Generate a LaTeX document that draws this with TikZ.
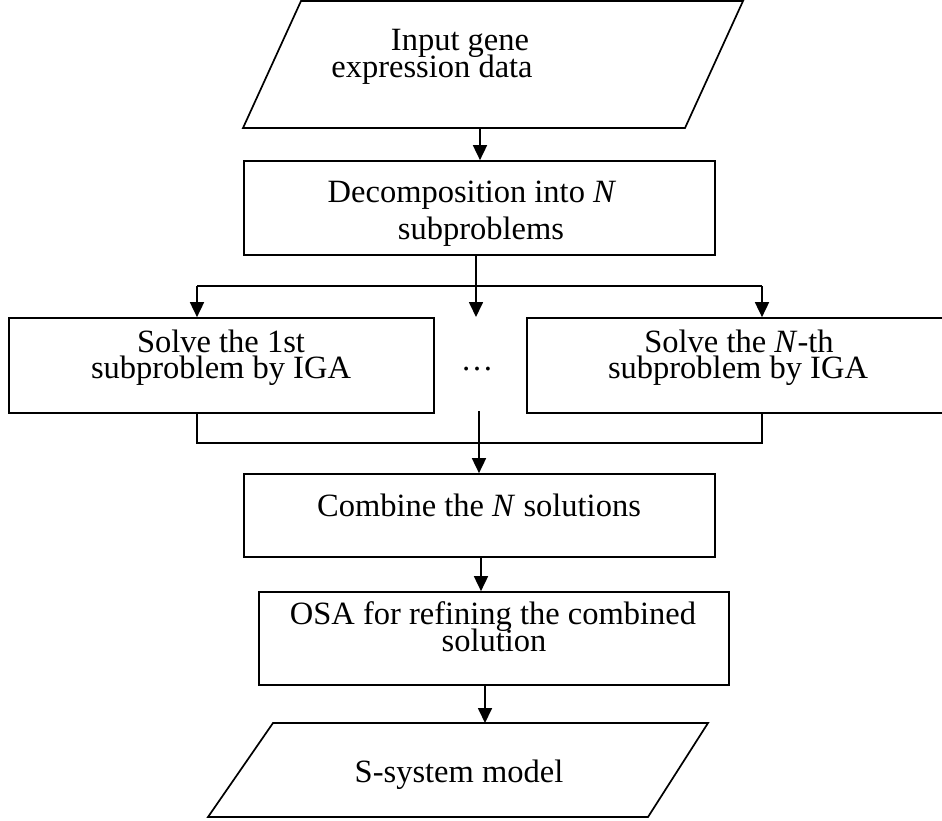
\documentclass[tikz,border=0pt]{standalone}
\usepackage{fontspec}
\setmainfont{Liberation Serif}
\usetikzlibrary{arrows.meta}
\begin{document}
\begin{tikzpicture}[x=1pt,y=-1pt,line width=1.7pt,
  box/.style={draw,rectangle,inner sep=0pt},
  txt/.style={anchor=base,inner sep=0pt,text height=20pt,text depth=4pt,font=\fontsize{32.5}{36}\selectfont},
  arr/.style={-{Triangle[length=15pt,width=14pt]}}]
\useasboundingbox (0,0) rectangle (942,820);
\clip (0,0) rectangle (942,820);

% input parallelogram
\draw (301,1) -- (743,1) -- (685,128) -- (243,128) -- cycle;
\coordinate (p1b) at (480,128);
\node[txt] (t1a) at (460,50) {Input gene};
\node[txt] (t1b) at (432,77) {expression data};

% decomposition
\node[box,minimum width=471pt,minimum height=94pt] (dec) at (479.5,208) {};
\node[txt] (t2a) at (472,202) {Decomposition into \textit{N}};
\node[txt] (t2b) at (481,239) {subproblems};
\draw[arr] (p1b) -- (p1b |- dec.north);

% subproblem boxes
\node[box,minimum width=425pt,minimum height=95pt] (s1) at (221.5,365.5) {};
\node[box,minimum width=423pt,minimum height=95pt] (sN) at (738.5,365.5) {};
\node[txt] (t3a) at (221,352) {Solve the 1st};
\node[txt] (t3b) at (221,378) {subproblem by IGA};
\node[txt] (t4a) at (739,352) {Solve the \textit{N}-th};
\node[txt] (t4b) at (738,378) {subproblem by IGA};
\node[txt] (dots) at (477,370) {…};

% branching
\coordinate (br) at (476,286);
\coordinate (bl) at (197,286);
\coordinate (brr) at (762,286);
\coordinate (dotst) at (476,317);
\draw (bl) -- (brr);
\draw[arr] (dec.south -| br) -- (dotst);
\draw[arr] (bl) -- (bl |- s1.north);
\draw[arr] (brr) -- (brr |- sN.north);

% combine
\node[box,minimum width=471pt,minimum height=83pt] (comb) at (479.5,515.5) {};
\node[txt] (t5) at (479,516) {Combine the \textit{N} solutions};
\coordinate (jn) at (479,443);
\coordinate (dotsb) at (479,411);
\draw (bl |- s1.south) -- (bl |- jn) -- (brr |- jn) -- (brr |- sN.south);
\draw[arr] (dotsb) -- (dotsb |- comb.north);

% OSA
\node[box,minimum width=470pt,minimum height=93pt] (osa) at (494,638.5) {};
\node[txt] (t6a) at (493,624) {OSA for refining the combined};
\node[txt] (t6b) at (494,651) {solution};
\coordinate (a2) at (481,557);
\draw[arr] (a2) -- (a2 |- osa.north);

% output parallelogram
\draw (273,723) -- (708,723) -- (648,817) -- (208,817) -- cycle;
\coordinate (p2t) at (485,723);
\node[txt] (t7) at (459,782) {S-system model};
\draw[arr] (osa.south -| p2t) -- (p2t);
\end{tikzpicture}
\end{document}
